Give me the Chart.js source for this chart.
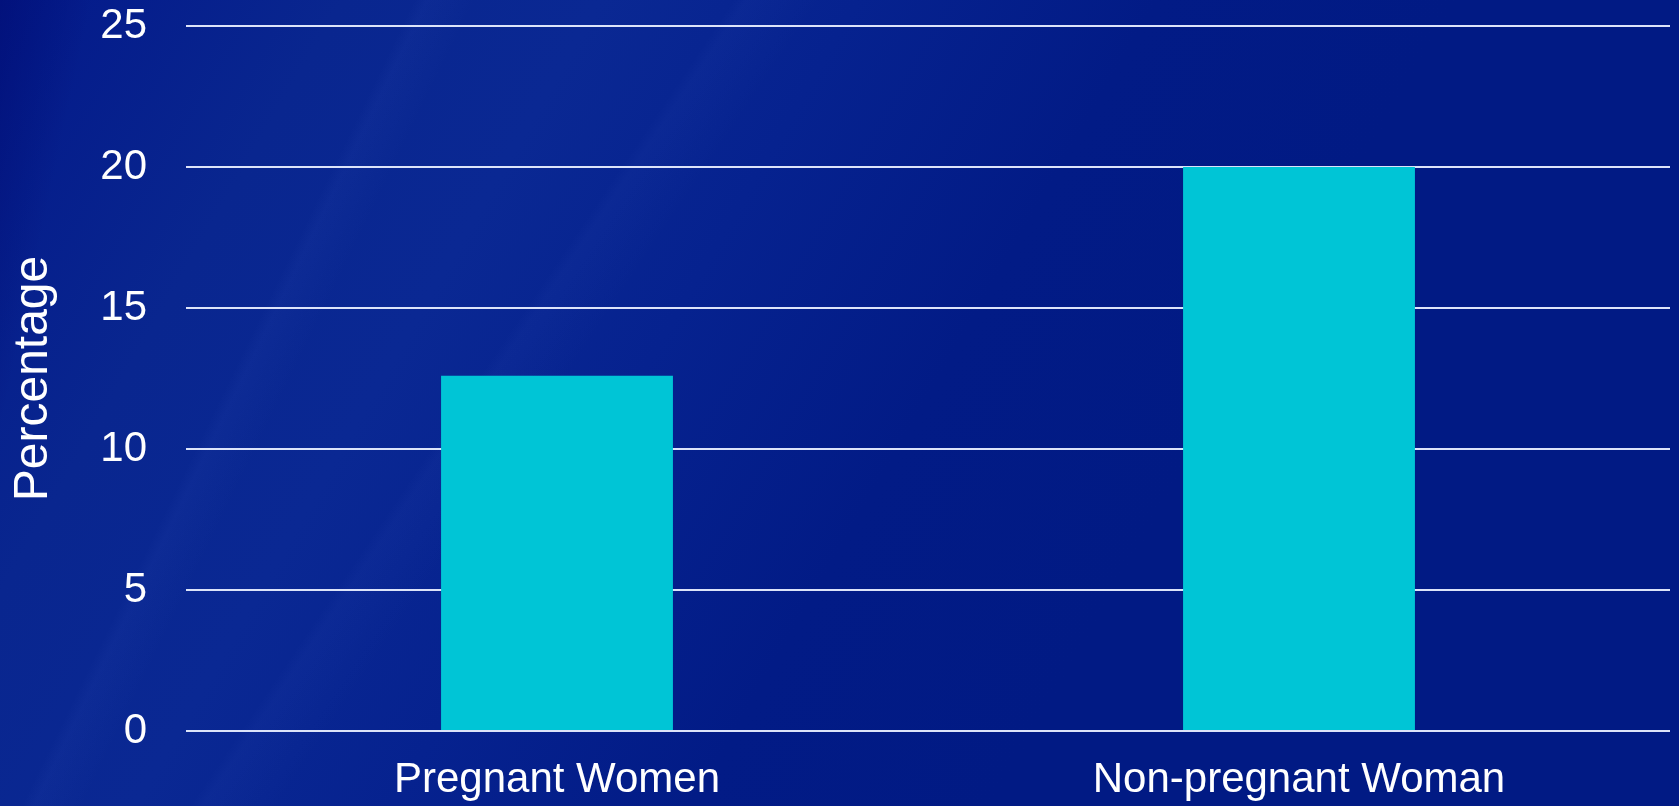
<!DOCTYPE html>
<html>
<head>
<meta charset="utf-8">
<title>Percentage</title>
<script src="https://cdn.jsdelivr.net/npm/chart.js"></script>
<style>
  html, body {
    margin: 0;
    padding: 0;
    overflow: hidden;
  }
  body {
    width: 1679px;
    height: 806px;
    background-color: #011a84;
    background-image:
      linear-gradient(116deg, rgba(255,255,255,0) 0%, rgba(255,255,255,0) 20%, rgba(120,150,255,0.035) 20.6%, rgba(255,255,255,0) 23%, rgba(255,255,255,0) 100%),
      linear-gradient(124deg, rgba(255,255,255,0) 0%, rgba(255,255,255,0) 33%, rgba(120,150,255,0.03) 33.6%, rgba(255,255,255,0) 37%, rgba(255,255,255,0) 100%),
      linear-gradient(102deg, rgba(0,10,110,0.5) 0%, rgba(0,10,110,0) 5%),
      linear-gradient(120deg, #03198a 0%, #09268f 16%, #0a2893 28%, #06228f 40%, #021b86 54%, #011a84 68%, #011a84 100%);
  }
  #wrap {
    position: absolute;
    left: 0;
    top: 0;
    width: 1679px;
    height: 806px;
  }
</style>
</head>
<body>
<div id="wrap"><canvas id="my-Chart" width="1679" height="806"></canvas></div>
<script>
// dados do gráfico
const categorias = ['Pregnant Women', 'Non-pregnant Woman'];
const percentuais = [12.6, 20.0];
const ticksY = [0, 5, 10, 15, 20, 25];

const fonte = '"Liberation Sans", Arial, sans-serif';

function plotChart() {
    const ctx = document.querySelector('#my-Chart');

    new Chart(ctx, {
        type: 'bar',
        data: {
            labels: categorias,
            datasets: [
                {
                    label: 'Percentage',
                    data: percentuais,
                    backgroundColor: '#00c5d6',
                    borderWidth: 0,
                    barPercentage: 0.3125,
                    categoryPercentage: 1.0
                }
            ]
        },
        options: {
            responsive: false,
            animation: false,
            layout: {
                padding: { top: 0, right: 9, bottom: 0, left: 0 }
            },
            plugins: {
                legend: { display: false },
                tooltip: { enabled: false }
            },
            scales: {
                x: {
                    // altura fixa do eixo x
                    afterFit: (scale) => {
                        scale.height = 75;
                        scale.paddingLeft = 0;
                        scale.paddingRight = 0;
                    },
                    grid: { display: false, drawTicks: false },
                    border: { display: false },
                    ticks: {
                        color: '#ffffff',
                        padding: 24,
                        font: { family: fonte, size: 42 }
                    }
                },
                y: {
                    min: ticksY[0],
                    max: ticksY[ticksY.length - 1],
                    // largura fixa do eixo y
                    afterFit: (scale) => {
                        scale.width = 186;
                        scale.paddingTop = 26;
                        scale.paddingBottom = 0;
                    },
                    afterBuildTicks: (scale) => {
                        scale.ticks = ticksY.map(v => ({ value: v }));
                    },
                    grid: {
                        color: 'rgba(232,238,255,0.95)',
                        lineWidth: 2,
                        drawTicks: false
                    },
                    border: { display: false },
                    ticks: {
                        color: '#ffffff',
                        padding: 39,
                        font: { family: fonte, size: 42 }
                    },
                    title: {
                        display: true,
                        text: 'Percentage',
                        color: '#ffffff',
                        padding: { top: 5, bottom: 4 },
                        font: { family: fonte, size: 48 }
                    }
                }
            }
        }
    });
}

document.addEventListener("DOMContentLoaded", plotChart);
</script>
</body>
</html>
